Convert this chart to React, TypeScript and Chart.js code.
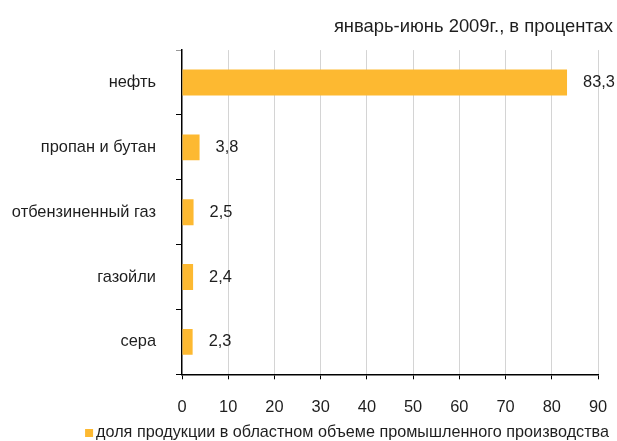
import React, { useEffect, useRef } from "react";
import { Chart, registerables } from "chart.js";

Chart.register(...registerables);

const categories = ["нефть", "пропан и бутан", "отбензиненный газ", "газойли", "сера"];
const values = [83.3, 3.8, 2.5, 2.4, 2.3];
const seriesLabel = "доля продукции в областном объеме промышленного производства";
const titleText = "январь-июнь 2009г., в процентах";
const xMin = 0;
const xMax = 90;
const xStep = 10;

const FONT = "'Liberation Sans', Arial, sans-serif";
const TEXT = "#1e1e1e";
const BAR = "#FDB931";

const valueLabels = {
  id: "valueLabels",
  afterDatasetsDraw(chart: any) {
    const ctx = chart.ctx;
    const meta = chart.getDatasetMeta(0);
    ctx.save();
    ctx.font = `16.4px ${FONT}`;
    ctx.fillStyle = TEXT;
    ctx.textAlign = "left";
    ctx.textBaseline = "middle";
    meta.data.forEach((el: any, i: number) => {
      const v = chart.data.datasets[0].data[i] as number;
      ctx.fillText(v.toFixed(1).replace(".", ","), el.x + 16, el.y);
    });
    ctx.restore();
  },
};

const bottomLegend = {
  id: "bottomLegend",
  afterDraw(chart: any) {
    const ctx = chart.ctx;
    const ds = chart.data.datasets[0];
    ctx.save();
    ctx.font = `16.2px ${FONT}`;
    ctx.textAlign = "left";
    ctx.textBaseline = "middle";
    const label = ds.label as string;
    const w = ctx.measureText(label).width;
    const right = chart.width - 8;
    const left = right - w;
    const y = chart.height - 8;
    ctx.fillStyle = ds.backgroundColor;
    ctx.fillRect(left - 11, y - 4, 8, 8);
    ctx.fillStyle = TEXT;
    ctx.fillText(label, left, y);
    ctx.restore();
  },
};

export default function App() {
  const ref = useRef<HTMLCanvasElement>(null);
  useEffect(() => {
    document.body.style.margin = "0";
    const chart = new Chart(ref.current!, {
      type: "bar",
      data: {
        labels: categories,
        datasets: [
          {
            label: seriesLabel,
            data: values,
            backgroundColor: BAR,
            barPercentage: 0.4,
            categoryPercentage: 1,
          },
        ],
      },
      plugins: [valueLabels, bottomLegend],
      options: {
        indexAxis: "y",
        animation: false,
        responsive: false,
        layout: { padding: { left: 0, right: 4, top: 6, bottom: 6 } },
        scales: {
          x: {
            min: xMin,
            max: xMax,
            ticks: {
              stepSize: xStep,
              color: TEXT,
              font: { family: FONT, size: 16.4 },
              padding: 18,
            },
            grid: {
              color: (c: any) => (c.index === 0 ? "rgba(0,0,0,0)" : "#d4d4d4"),
              tickColor: "#000",
              tickLength: 5,
            },
            border: { color: "#000", width: 1.5 },
            afterFit: (s: any) => {
              s.paddingLeft = 0;
              s.paddingRight = 0;
            },
          },
          y: {
            ticks: {
              color: TEXT,
              font: { family: FONT, size: 16.4 },
              padding: 20,
            },
            grid: {
              drawOnChartArea: false,
              tickColor: (c: any) => (c.index === 0 ? "#999" : "#000"),
              tickLength: 6,
              offset: true,
            },
            border: { color: "#000", width: 1.5 },
            afterFit: (s: any) => {
              s.width = 182;
            },
          },
          yRight: {
            type: "category",
            axis: "y",
            position: "right",
            labels: categories,
            ticks: { display: false },
            grid: { display: false },
            border: { display: false },
            afterFit: (s: any) => {
              s.width = 15;
            },
          },
        },
        plugins: {
          title: {
            display: true,
            text: titleText,
            align: "end",
            color: TEXT,
            font: { family: FONT, size: 18.4, weight: "normal" },
            padding: { top: 10, bottom: 12 },
          },
          legend: { display: false },
          tooltip: { enabled: false },
        },
      },
    });
    return () => chart.destroy();
  }, []);
  return (
    <div style={{ width: 617, height: 441 }}>
      <canvas ref={ref} width={617} height={441} style={{ display: "block" }} />
    </div>
  );
}
